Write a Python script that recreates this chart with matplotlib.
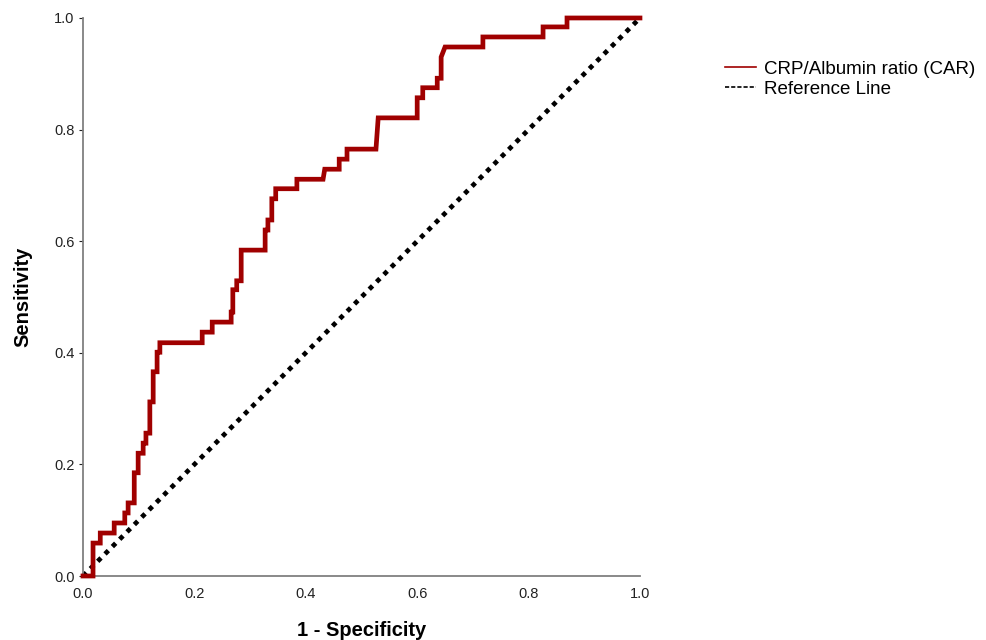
import matplotlib
matplotlib.use("Agg")
import matplotlib.pyplot as plt
from matplotlib.lines import Line2D

# ROC curve vertices (1 - specificity, sensitivity)
fpr = [0.000, 0.018, 0.018, 0.031, 0.031, 0.056, 0.056, 0.075, 0.075, 0.081,
       0.081, 0.092, 0.092, 0.099, 0.099, 0.108, 0.108, 0.113, 0.113, 0.120,
       0.120, 0.126, 0.126, 0.133, 0.133, 0.138, 0.138, 0.214, 0.214, 0.232,
       0.232, 0.266, 0.266, 0.269, 0.269, 0.276, 0.276, 0.284, 0.284, 0.327,
       0.327, 0.332, 0.332, 0.339, 0.339, 0.346, 0.346, 0.384, 0.384, 0.431,
       0.434, 0.460, 0.460, 0.474, 0.474, 0.526, 0.530, 0.600, 0.600, 0.610,
       0.610, 0.636, 0.636, 0.643, 0.643, 0.650, 0.718, 0.718, 0.826, 0.826,
       0.869, 0.869, 1.000]
tpr = [0.000, 0.000, 0.059, 0.059, 0.077, 0.077, 0.095, 0.095, 0.113, 0.113,
       0.131, 0.131, 0.185, 0.185, 0.220, 0.220, 0.238, 0.238, 0.256, 0.256,
       0.312, 0.312, 0.366, 0.366, 0.401, 0.401, 0.418, 0.418, 0.437, 0.437,
       0.455, 0.455, 0.473, 0.473, 0.513, 0.513, 0.529, 0.529, 0.584, 0.584,
       0.620, 0.620, 0.638, 0.638, 0.676, 0.676, 0.694, 0.694, 0.711, 0.711,
       0.729, 0.729, 0.747, 0.747, 0.765, 0.765, 0.821, 0.821, 0.857, 0.857,
       0.875, 0.875, 0.892, 0.892, 0.930, 0.948, 0.948, 0.966, 0.966, 0.984,
       0.984, 1.000, 1.000]

ref_x = [0.0, 1.0]
ref_y = [0.0, 1.0]
ticks = [0.0, 0.2, 0.4, 0.6, 0.8, 1.0]
tick_labels = ["0.0", "0.2", "0.4", "0.6", "0.8", "1.0"]

plt.rcParams["font.family"] = ["Liberation Sans", "DejaVu Sans"]

fig = plt.figure(figsize=(9.87, 6.4), dpi=100)
ax = fig.add_axes([0.0841, 0.1, 0.5643, 0.8719])

curve_color = "#A00000"
ax.plot(ref_x, ref_y, color="black", lw=3.4, linestyle=(0, (1, 1.2)),
        zorder=2, clip_on=False)
ax.plot(fpr, tpr, color=curve_color, lw=3.4, solid_joinstyle="miter",
        zorder=3, clip_on=False)

ax.set_xlim(0, 1)
ax.set_ylim(0, 1)
ax.set_xticks(ticks)
ax.set_xticklabels(tick_labels)
ax.set_yticks(ticks)
ax.set_yticklabels(tick_labels)
ax.tick_params(axis="x", length=0, labelsize=10.5, pad=8, colors="#222222")
ax.tick_params(axis="y", length=3, width=0.8, labelsize=10.5, pad=3,
               colors="#222222")
for side in ("top", "right"):
    ax.spines[side].set_visible(False)
for side in ("left", "bottom"):
    ax.spines[side].set_color("#808080")
    ax.spines[side].set_linewidth(1.3)

ax.set_xlabel("1 - Specificity", fontsize=14.5, fontweight="bold", labelpad=14)
ax.set_ylabel("Sensitivity", fontsize=14.5, fontweight="bold", labelpad=16)

handles = [Line2D([], [], color=curve_color, lw=1.2),
           Line2D([], [], color="black", lw=1.2, linestyle=(0, (2.5, 1.2)))]
fig.legend(handles, ["CRP/Albumin ratio (CAR)", "Reference Line"],
           loc="upper left", bbox_to_anchor=(0.735, 0.905), frameon=False,
           fontsize=13.5, handlelength=1.65, handletextpad=0.4, labelspacing=0.15,
           borderaxespad=0, borderpad=0)

fig.savefig("out.png", dpi=100)
